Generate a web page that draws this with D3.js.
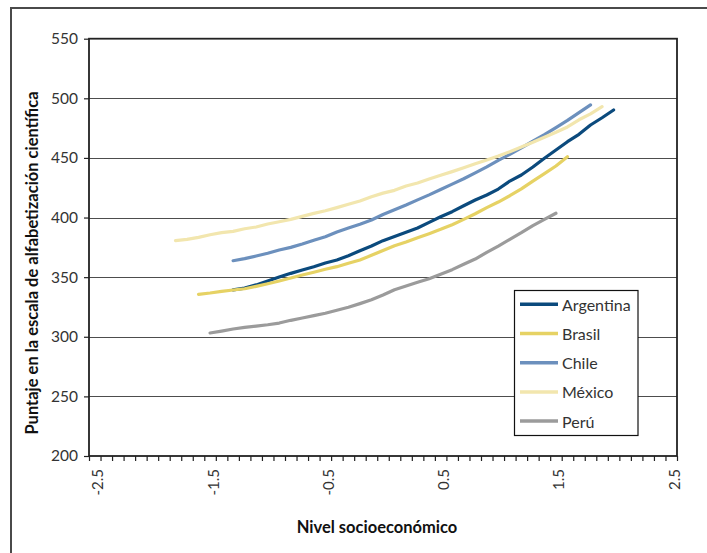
<!DOCTYPE html>
<html>
<head>
<meta charset="utf-8">
<script src="https://cdn.jsdelivr.net/npm/d3@7"></script>
<style>
  html, body { margin: 0; padding: 0; background: #fff; }
  svg { display: block; }
</style>
</head>
<body>
<svg id="chart" width="707" height="553"></svg>
<script>
// ---- data ----
const seriesNames = ["Argentina", "Brasil", "Chile", "México", "Perú"];
const seriesColors = ["#0b4a7d", "#e6d264", "#6c90bd", "#f2e6ae", "#9b9b9b"];
const seriesStarts = [-1.3, -1.6, -1.3, -1.8, -1.5];

const argentina = [339.3, 340.8, 343.5, 346.8, 350.1, 353.2, 356, 358.8, 361.9, 364.4,
  368, 372.2, 376.1, 380.6, 384.2, 387.6, 391.2, 396, 400.7, 404.9,
  409.9, 414.7, 418.9, 423.9, 430.6, 435.7, 442.4, 449.7, 456.6, 463.6,
  469.8, 477.6, 483.7, 490.2];
const brasil = [335.6, 336.7, 338.1, 339.2, 340.3, 342.3, 344.5, 346.8, 349.3, 351.8,
  354.1, 356.6, 358.8, 361.6, 364.4, 368.3, 372.3, 376.4, 379.5, 383.1,
  386.5, 390.1, 394, 398.5, 403.2, 408.3, 413, 418.3, 424, 430.6,
  436.8, 443.2, 451];
const chile = [363.8, 365.5, 367.7, 370, 372.8, 375, 377.8, 380.9, 383.9, 387.9,
  391.2, 394.3, 397.9, 402.5, 406.5, 410.5, 414.8, 419, 423.5, 428,
  432.5, 437.5, 442.5, 448, 453, 458.5, 464, 469.5, 475.5, 481.5,
  488, 494.5];
const mexico = [380.6, 381.7, 383.4, 385.6, 387.3, 388.4, 390.6, 392.1, 394.6, 396.5,
  398.5, 401, 403.5, 405.7, 408.3, 411.1, 413.9, 417.5, 420.5, 422.8,
  426.4, 429, 432.3, 435.4, 438.5, 441.8, 445.2, 448.3, 451.6, 455.2,
  459.2, 463.1, 467.3, 471.5, 476, 482, 487, 493];
const peru = [303.2, 304.8, 306.5, 307.9, 309, 310.1, 311.5, 313.8, 315.7, 317.7,
  319.7, 322.2, 324.7, 327.8, 331.1, 335, 339.5, 342.6, 345.7, 348.7,
  352.4, 356.3, 360.8, 365.2, 370.8, 376.1, 381.7, 387.3, 393.2, 398.5,
  403.6];

const xTickLabels = ["-2.5", "-1.5", "-0.5", "0.5", "1.5", "2.5"];
const yTickValues = [200, 250, 300, 350, 400, 450, 500, 550];
const categoryStep = 0.1;
const xTitle = "Nivel socioeconómico";
const yTitle = "Puntaje  en la escala de alfabetización científica";

// ---- layout ----
const svg = d3.select("#chart");
const plot = { left: 89, right: 677, top: 38.7, bottom: 456 };
const fontFam = "Lato, 'Open Sans', sans-serif";

const x = d3.scaleLinear().domain([-2.55, 2.55]).range([plot.left, plot.right]);
const y = d3.scaleLinear().domain([200, 550]).range([plot.bottom, plot.top]);

// outer frame (clipped by the page on right and bottom)
svg.append("rect")
  .attr("x", 11).attr("y", 8).attr("width", 900).attr("height", 700)
  .attr("fill", "none").attr("stroke", "#4a4a4a").attr("stroke-width", 2);

// gridlines
svg.append("g").selectAll("line")
  .data(yTickValues.filter(v => v > 200 && v < 550))
  .join("line")
  .attr("x1", plot.left).attr("x2", plot.right)
  .attr("y1", d => Math.round(y(d)) + 0.5).attr("y2", d => Math.round(y(d)) + 0.5)
  .attr("stroke", "#4d4d4d").attr("stroke-width", 1.1);

// y axis
const yAxis = svg.append("g")
  .attr("transform", `translate(${plot.left},0)`)
  .call(d3.axisLeft(y).tickValues(yTickValues).tickSize(5).tickPadding(6).tickFormat(d3.format("d")));
yAxis.select(".domain").remove();
yAxis.selectAll(".tick line").attr("stroke", "#222").attr("stroke-width", 1.2);
yAxis.selectAll("text").attr("font-family", fontFam).attr("font-size", 15.5).attr("fill", "#333");

// x axis tick marks at category boundaries
const boundaries = d3.range(0, 52).map(i => -2.55 + i * categoryStep);
const xAxis = svg.append("g")
  .attr("transform", `translate(0,${plot.bottom})`)
  .call(d3.axisBottom(x).tickValues(boundaries).tickSize(5).tickFormat(""));
xAxis.select(".domain").remove();
xAxis.selectAll(".tick line").attr("stroke", "#222").attr("stroke-width", 1.2);

// x tick labels (rotated)
const xLab = svg.append("g")
  .attr("transform", `translate(0,${plot.bottom})`)
  .call(d3.axisBottom(x).tickValues(xTickLabels.map(Number)).tickSize(0).tickFormat((d, i) => xTickLabels[i]));
xLab.select(".domain").remove();
xLab.selectAll("text")
  .attr("font-family", fontFam).attr("font-size", 15).attr("fill", "#333")
  .attr("text-anchor", "end")
  .attr("dy", null)
  .attr("y", 0)
  .attr("dominant-baseline", "central")
  .attr("transform", "translate(2,13) rotate(-90)");

// plot border
svg.append("rect")
  .attr("x", plot.left).attr("y", plot.top)
  .attr("width", plot.right - plot.left).attr("height", plot.bottom - plot.top)
  .attr("fill", "none").attr("stroke", "#222").attr("stroke-width", 1.8);

// lines
const allSeries = [argentina, brasil, chile, mexico, peru];
const line = d3.line()
  .x(d => x(d[0]))
  .y(d => y(d[1]));
allSeries.forEach((vals, si) => {
  const pts = vals.map((v, i) => [seriesStarts[si] + i * categoryStep, v]);
  svg.append("path")
    .datum(pts)
    .attr("d", line)
    .attr("fill", "none")
    .attr("stroke", seriesColors[si])
    .attr("stroke-width", 3.2)
    .attr("stroke-linejoin", "round")
    .attr("stroke-linecap", "round");
});

// legend
const lg = svg.append("g");
lg.append("rect")
  .attr("x", 514.5).attr("y", 290.5).attr("width", 123.5).attr("height", 145)
  .attr("fill", "#fff").attr("stroke", "#111").attr("stroke-width", 1.2);
seriesNames.forEach((name, i) => {
  const cy = 304.3 + i * 29.2;
  lg.append("line")
    .attr("x1", 520).attr("x2", 558).attr("y1", cy).attr("y2", cy)
    .attr("stroke", seriesColors[i]).attr("stroke-width", 3.5);
  lg.append("text")
    .attr("x", 562).attr("y", cy).attr("dominant-baseline", "central")
    .attr("font-family", fontFam).attr("font-size", 16).attr("fill", "#333")
    .text(name);
});

// axis titles
svg.append("text")
  .attr("x", 377).attr("y", 533)
  .attr("text-anchor", "middle")
  .attr("font-family", fontFam).attr("font-size", 16.5).attr("font-weight", "bold").attr("fill", "#111")
  .text(xTitle);

svg.append("text")
  .attr("transform", "translate(38,263) rotate(-90)")
  .attr("text-anchor", "middle")
  .attr("font-family", fontFam).attr("font-size", 16.5).attr("font-weight", "bold").attr("fill", "#111")
  .text(yTitle);
</script>
</body>
</html>
